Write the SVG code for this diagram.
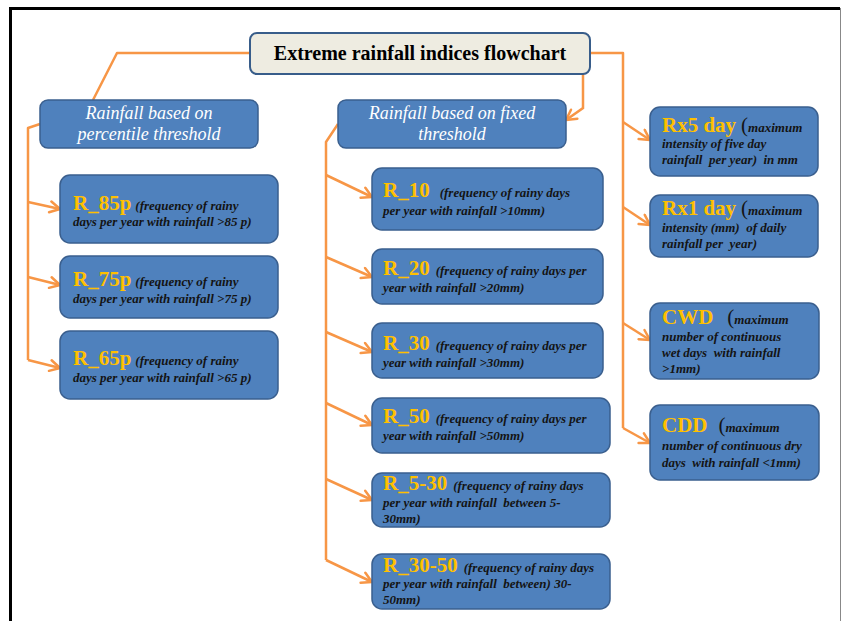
<svg xmlns="http://www.w3.org/2000/svg" width="842" height="621" viewBox="0 0 842 621">
<defs>
<marker id="ah" markerUnits="userSpaceOnUse" markerWidth="14" markerHeight="14" viewBox="0 0 14 14" refX="12" refY="7" orient="auto">
<path d="M2,1.5 L12,7 L2,12.5" fill="none" stroke="#F79646" stroke-width="2.5" stroke-linecap="round" stroke-linejoin="round"/>
</marker>
<style>
.box{fill:#4F81BD;stroke:#3A5F8E;stroke-width:1.5}
.title{fill:#EEECE1;stroke:#385D8A;stroke-width:2}
.tt{font-family:"Liberation Serif",serif;font-weight:bold;font-size:20px;fill:#000;text-anchor:middle}
.hdr{font-family:"Liberation Serif",serif;font-style:italic;font-size:18px;fill:#fff;text-anchor:middle}
.lbl{font-family:"Liberation Serif",serif;font-weight:bold;font-style:normal;font-size:21px;fill:#FFC000}
.dsc{font-family:"Liberation Serif",serif;font-weight:bold;font-style:italic;font-size:13px;fill:#141414}
.par{font-family:"Liberation Serif",serif;font-weight:normal;font-style:normal;font-size:21px;fill:#141414}
.conn{fill:none;stroke:#F79646;stroke-width:2.5;stroke-linejoin:round}
.arr{fill:none;stroke:#F79646;stroke-width:2.5;marker-end:url(#ah)}
</style>
</defs>
<rect width="842" height="621" fill="#fff"/>
<path d="M10.5,621 L10.5,8.5 L840,8.5" fill="none" stroke="#000" stroke-width="3"/>
<line x1="840.5" y1="8" x2="840.5" y2="621" stroke="#888" stroke-width="1"/>

<g id="connectors">
<path class="conn" d="M250,53 L117,53 L93,100"/>
<path class="arr" d="M583,74 L583,108 L566,120"/>
<path class="conn" d="M590,53 L623,53 L623,428"/>
<path class="conn" d="M40,124 L28,128 L28,360"/>
<path class="conn" d="M338,124 L326,142 L326,560"/>
<path class="arr" d="M28,202 L60,209"/>
<path class="arr" d="M28,277 L60,285"/>
<path class="arr" d="M28,360 L60,368"/>
<path class="arr" d="M326,175 L372,197"/>
<path class="arr" d="M326,257 L372,277"/>
<path class="arr" d="M326,332 L372,352"/>
<path class="arr" d="M326,403 L372,425"/>
<path class="arr" d="M326,479 L372,500"/>
<path class="arr" d="M326,560 L372,582"/>
<path class="arr" d="M623,122 L650,140"/>
<path class="arr" d="M623,207 L650,225"/>
<path class="arr" d="M623,323 L650,340"/>
<path class="arr" d="M623,428 L650,443"/>
</g>

<g id="title">
<rect class="title" x="250" y="33" width="340" height="41" rx="7"/>
<text class="tt" x="420" y="60">Extreme rainfall indices flowchart</text>
</g>

<g id="hdr-percentile">
<rect class="box" x="40" y="100" width="218" height="48" rx="8"/>
<text class="hdr" x="149" y="119">Rainfall based on</text>
<text class="hdr" x="149" y="140">percentile threshold</text>
</g>

<g id="hdr-fixed">
<rect class="box" x="338" y="100" width="228" height="48" rx="8"/>
<text class="hdr" x="452" y="119">Rainfall based on fixed</text>
<text class="hdr" x="452" y="140">threshold</text>
</g>

<g id="r85p">
<rect class="box" x="60" y="175" width="218" height="68" rx="10"/>
<text x="73" y="210"><tspan class="lbl">R_85p</tspan><tspan class="dsc" dx="4">(frequency of rainy</tspan></text>
<text class="dsc" x="73" y="226">days per year with rainfall &gt;85 p)</text>
</g>

<g id="r75p">
<rect class="box" x="60" y="256" width="218" height="62" rx="10"/>
<text x="73" y="286"><tspan class="lbl">R_75p</tspan><tspan class="dsc" dx="4">(frequency of rainy</tspan></text>
<text class="dsc" x="73" y="303">days per year with rainfall &gt;75 p)</text>
</g>

<g id="r65p">
<rect class="box" x="60" y="331" width="218" height="68" rx="10"/>
<text x="73" y="365"><tspan class="lbl">R_65p</tspan><tspan class="dsc" dx="4">(frequency of rainy</tspan></text>
<text class="dsc" x="73" y="382">days per year with rainfall &gt;65 p)</text>
</g>

<g id="r10">
<rect class="box" x="372" y="168" width="231" height="62" rx="10"/>
<text x="383" y="197"><tspan class="lbl">R_10</tspan><tspan class="dsc" dx="10">(frequency of rainy days</tspan></text>
<text class="dsc" x="383" y="215">per year with rainfall &gt;10mm)</text>
</g>

<g id="r20">
<rect class="box" x="372" y="249" width="231" height="55" rx="10"/>
<text x="383" y="275"><tspan class="lbl">R_20</tspan><tspan class="dsc" dx="6">(frequency of rainy days per</tspan></text>
<text class="dsc" x="383" y="292">year with rainfall  &gt;20mm)</text>
</g>

<g id="r30">
<rect class="box" x="372" y="323" width="231" height="55" rx="10"/>
<text x="383" y="350"><tspan class="lbl">R_30</tspan><tspan class="dsc" dx="6">(frequency of rainy days per</tspan></text>
<text class="dsc" x="383" y="367">year with rainfall &gt;30mm)</text>
</g>

<g id="r50">
<rect class="box" x="372" y="398" width="238" height="55" rx="10"/>
<text x="383" y="423"><tspan class="lbl">R_50</tspan><tspan class="dsc" dx="6">(frequency of rainy days per</tspan></text>
<text class="dsc" x="383" y="440">year with rainfall &gt;50mm)</text>
</g>

<g id="r5-30">
<rect class="box" x="372" y="473" width="238" height="54" rx="10"/>
<text x="383" y="490"><tspan class="lbl">R_5-30</tspan><tspan class="dsc" dx="6">(frequency of rainy days</tspan></text>
<text class="dsc" x="383" y="507" xml:space="preserve">per year with rainfall  between 5-</text>
<text class="dsc" x="383" y="523">30mm)</text>
</g>

<g id="r30-50">
<rect class="box" x="372" y="554" width="238" height="55" rx="10"/>
<text x="383" y="572"><tspan class="lbl">R_30-50</tspan><tspan class="dsc" dx="6">(frequency of rainy days</tspan></text>
<text class="dsc" x="383" y="588" xml:space="preserve">per year with rainfall  between) 30-</text>
<text class="dsc" x="383" y="604">50mm)</text>
</g>

<g id="rx5">
<rect class="box" x="650" y="107" width="168" height="69" rx="10"/>
<text x="662" y="132"><tspan class="lbl">Rx5 day</tspan><tspan class="par" dx="5">(</tspan><tspan class="dsc">maximum</tspan></text>
<text class="dsc" x="662" y="148">intensity of five day</text>
<text class="dsc" x="662" y="164" xml:space="preserve">rainfall  per year)  in mm</text>
</g>

<g id="rx1">
<rect class="box" x="650" y="195" width="168" height="62" rx="10"/>
<text x="662" y="215"><tspan class="lbl">Rx1 day</tspan><tspan class="par" dx="5">(</tspan><tspan class="dsc">maximum</tspan></text>
<text class="dsc" x="662" y="232" xml:space="preserve">intensity (mm)  of daily</text>
<text class="dsc" x="662" y="248" xml:space="preserve">rainfall per  year)</text>
</g>

<g id="cwd">
<rect class="box" x="650" y="303" width="169" height="76" rx="10"/>
<text x="662" y="324"><tspan class="lbl">CWD</tspan><tspan class="par" dx="14">(</tspan><tspan class="dsc">maximum</tspan></text>
<text class="dsc" x="662" y="341">number of continuous</text>
<text class="dsc" x="662" y="357" xml:space="preserve">wet days  with rainfall</text>
<text class="dsc" x="662" y="373">&gt;1mm)</text>
</g>

<g id="cdd">
<rect class="box" x="650" y="405" width="169" height="75" rx="10"/>
<text x="662" y="432"><tspan class="lbl">CDD</tspan><tspan class="par" dx="11">(</tspan><tspan class="dsc">maximum</tspan></text>
<text class="dsc" x="662" y="450">number of continuous dry</text>
<text class="dsc" x="662" y="467" xml:space="preserve">days  with rainfall &lt;1mm)</text>
</g>
</svg>
